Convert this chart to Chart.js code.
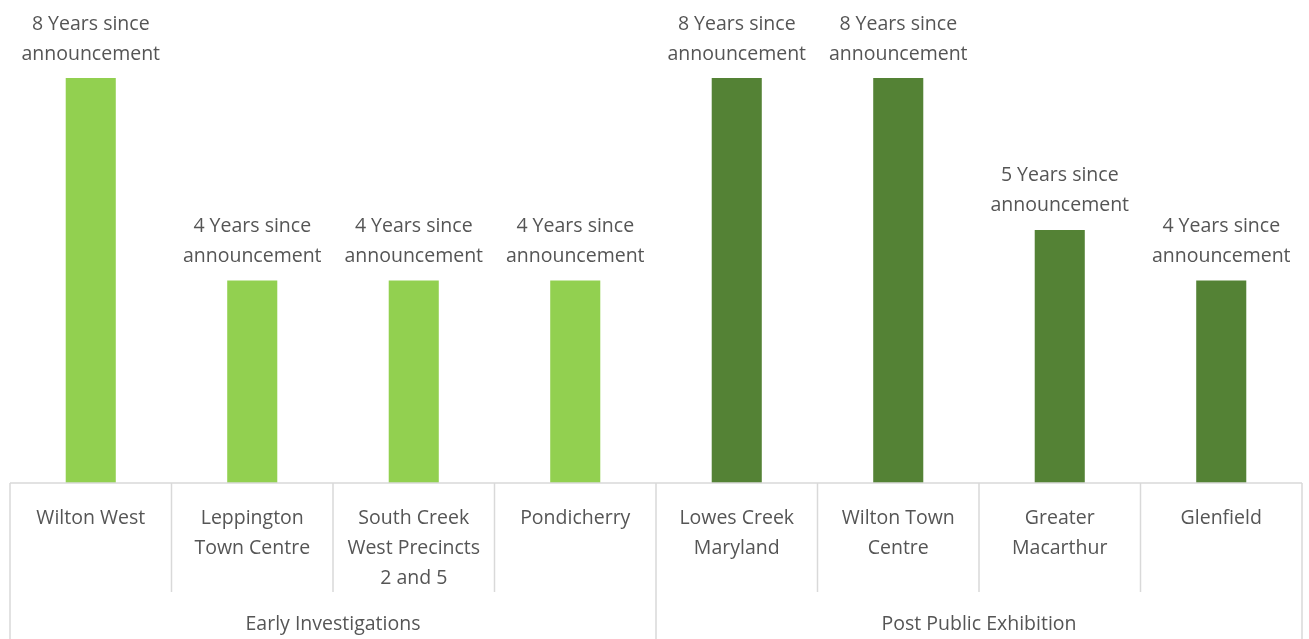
<!DOCTYPE html>
<html>
<head>
<meta charset="utf-8">
<script src="https://cdn.jsdelivr.net/npm/chart.js@4.4.1/dist/chart.umd.min.js"></script>
<style>
  html, body { margin: 0; padding: 0; background: #fff; }
  #wrap { width: 1309px; height: 639px; position: relative; }
</style>
</head>
<body>
<div id="wrap"><canvas id="myChart"></canvas></div>
<script>
// data
const categories = [
  ['Wilton West'],
  ['Leppington', 'Town Centre'],
  ['South Creek', 'West Precincts', '2 and 5'],
  ['Pondicherry'],
  ['Lowes Creek', 'Maryland'],
  ['Wilton Town', 'Centre'],
  ['Greater', 'Macarthur'],
  ['Glenfield']
];
const yearsSince = [8, 4, 4, 4, 8, 8, 5, 4];
const groups = ['Early Investigations', 'Post Public Exhibition'];
const groupOf = [0, 0, 0, 0, 1, 1, 1, 1];
const groupColors = ['#92D050', '#548235'];

const FONT = '19.5px "Open Sans"';
const TEXT = '#555555';
const LINE = '#D9D9D9';

// labels, separators and group captions
const decorations = {
  id: 'decorations',
  afterDraw(c) {
    const ctx = c.ctx;
    const x = c.scales.x, y = c.scales.y;
    const base = y.getPixelForValue(0);
    const step = x.getPixelForValue(1) - x.getPixelForValue(0);
    const H = c.height;

    ctx.save();
    // axis line and separators
    ctx.strokeStyle = LINE;
    ctx.lineWidth = 1.5;
    ctx.beginPath();
    ctx.moveTo(x.getPixelForValue(0) - step / 2, base);
    ctx.lineTo(x.getPixelForValue(categories.length - 1) + step / 2, base);
    for (let i = 0; i <= categories.length; i++) {
      const px = x.getPixelForValue(i) - step / 2;
      const isGroupEdge = i === 0 || i === categories.length || groupOf[i] !== groupOf[i - 1];
      ctx.moveTo(px, base);
      ctx.lineTo(px, isGroupEdge ? H : base + 109);
    }
    ctx.stroke();

    ctx.fillStyle = TEXT;
    ctx.font = FONT;
    ctx.textAlign = 'center';
    ctx.textBaseline = 'middle';

    // category labels
    categories.forEach((lines, i) => {
      const px = x.getPixelForValue(i);
      lines.forEach((t, k) => ctx.fillText(t, px, base + 35 + k * 30));
    });

    // group captions
    groups.forEach((g, gi) => {
      const idx = groupOf.map((v, i) => v === gi ? i : -1).filter(i => i >= 0);
      const mid = (x.getPixelForValue(idx[0]) + x.getPixelForValue(idx[idx.length - 1])) / 2;
      ctx.fillText(g, mid, base + 141);
    });

    // value labels above bars
    const meta = c.getDatasetMeta(0);
    meta.data.forEach((bar, i) => {
      ctx.fillText(yearsSince[i] + ' Years since', bar.x, bar.y - 54);
      ctx.fillText('announcement', bar.x, bar.y - 24);
    });
    ctx.restore();
  }
};

const ctx = document.getElementById('myChart').getContext('2d');
const chart = new Chart(ctx, {
  type: 'bar',
  data: {
    labels: categories.map(l => l.join(' ')),
    datasets: [{
      data: yearsSince,
      backgroundColor: groupOf.map(g => groupColors[g]),
      categoryPercentage: 1,
      barPercentage: 0.31
    }]
  },
  options: {
    responsive: true,
    maintainAspectRatio: false,
    animation: false,
    layout: { padding: { top: 78, left: 10, right: 7, bottom: 0 } },
    plugins: { legend: { display: false }, tooltip: { enabled: false } },
    scales: {
      x: {
        grid: { display: false },
        border: { display: false },
        ticks: { display: false },
        afterFit(s) { s.height = 156; }
      },
      y: {
        display: false,
        min: 0,
        max: 8
      }
    }
  },
  plugins: [decorations]
});
</script>
</body>
</html>
